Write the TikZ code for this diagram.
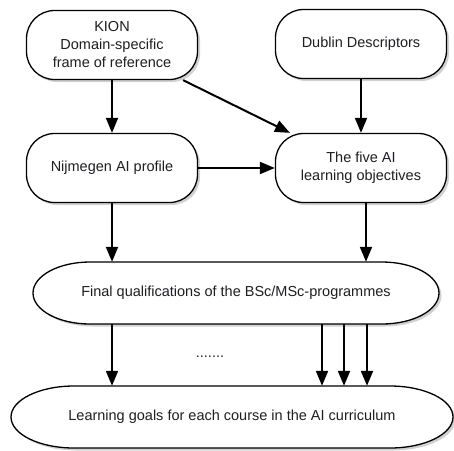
\documentclass[tikz,border=0pt]{standalone}
\usepackage{fontspec}
\setmainfont{Liberation Sans}
\usetikzlibrary{arrows.meta,shadows}

\definecolor{inkgray}{RGB}{30,30,36}

\tikzset{
  boxshade/.style={drop shadow={shadow xshift=2.5pt,shadow yshift=-2.5pt,opacity=0.3,fill=black!60}},
  roundbox/.style={draw,line width=1.3pt,fill=white,boxshade,rounded corners=28pt,
    minimum width=171pt,minimum height=69pt,align=center},
  ovalbox/.style={draw,line width=1.3pt,fill=white,boxshade},
  ovaltext/.style={minimum height=62pt},
  arr/.style={line width=2pt,-{Triangle[length=15pt,width=12pt]}}
}

\begin{document}
\begin{tikzpicture}[x=1pt,y=-1pt,font=\fontsize{14.5}{18}\selectfont,text=inkgray]
  \useasboundingbox (0,0) rectangle (454,450);

  % upper four boxes
  \node[roundbox] (kion)   at (112,45)  {KION\\Domain-specific\\frame of reference};
  \node[roundbox] (dublin) at (361,44)  {Dublin Descriptors};
  \node[roundbox] (nijm)   at (112,168) {Nijmegen AI profile};
  \node[roundbox] (five)   at (361,168) {The five AI\\learning objectives};

  % the two long ovals
  \draw[ovalbox] (90,262) -- (382,262)
     arc[start angle=-90,end angle=90,x radius=57,y radius=31]
     -- (90,324)
     arc[start angle=90,end angle=270,x radius=57,y radius=31] -- cycle;
  \draw[ovalbox] (74,386) -- (390,386)
     arc[start angle=-90,end angle=90,x radius=63,y radius=31]
     -- (74,448)
     arc[start angle=90,end angle=270,x radius=63,y radius=31] -- cycle;
  \node[ovaltext,minimum width=407pt] (final) at (236,293) {Final qualifications of the BSc/MSc-programmes};
  \node[ovaltext,minimum width=442pt] (goals) at (232,417) {Learning goals for each course in the AI curriculum};

  \node (dots) at (210,357) {.......};

  % connectors
  \draw[arr] (kion) -- (nijm);
  \draw[arr] (dublin) -- (five);
  \draw[arr] (kion) -- (five);
  \draw[arr] (nijm) -- (five);
  \draw[arr] (nijm) -- (nijm |- final.north);
  \draw[arr] ([xshift=5pt]five.south) -- ([xshift=5pt]five.south |- final.north);
  \draw[arr] (final.south -| nijm) -- (goals.north -| nijm);
  \foreach \x in {322,344,367}
    \draw[arr] (final.south -| \x,0) -- (goals.north -| \x,0);
\end{tikzpicture}
\end{document}
